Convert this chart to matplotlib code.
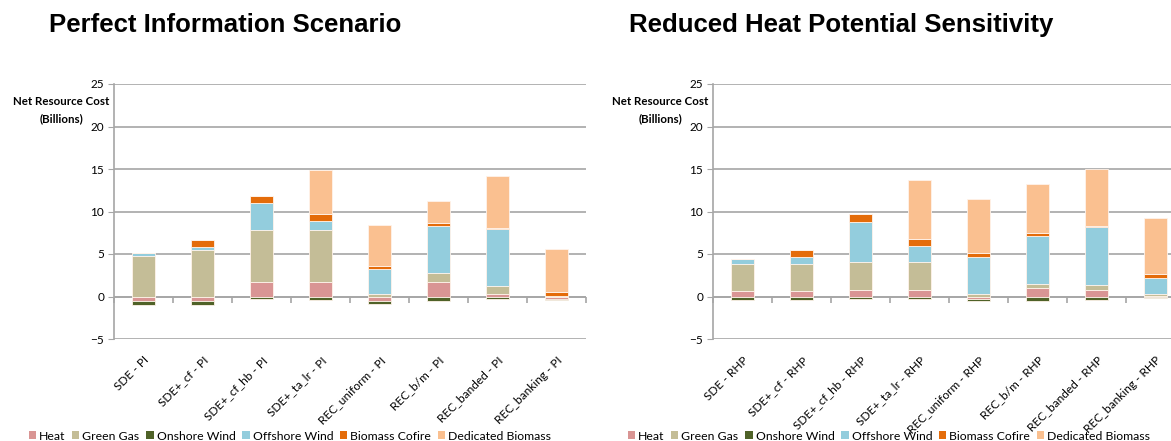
import numpy as np
import matplotlib
matplotlib.use('Agg')
import matplotlib.pyplot as plt
from matplotlib.patches import Patch

# categories
cats_pi = ['SDE - PI', 'SDE+_cf - PI', 'SDE+_cf_hb - PI', 'SDE+_ta_lr - PI',
           'REC_uniform - PI', 'REC_b/m - PI', 'REC_banded - PI', 'REC_banking - PI']
cats_rhp = ['SDE - RHP', 'SDE+_cf - RHP', 'SDE+_cf_hb - RHP', 'SDE+_ta_lr - RHP',
            'REC_uniform - RHP', 'REC_b/m - RHP', 'REC_banded - RHP', 'REC_banking - RHP']

series_names = ['Heat', 'Green Gas', 'Onshore Wind', 'Offshore Wind',
                'Biomass Cofire', 'Dedicated Biomass']
colors = ['#D99594', '#C4BD97', '#4F6228', '#93CDDD', '#E46C0A', '#FAC090']

# Perfect information (billions)
heat_pi = [-0.55, -0.55, 1.7, 1.7, -0.55, 1.75, 0.35, -0.25]
gg_pi = [4.8, 5.5, 6.1, 6.1, 0.25, 1.0, 0.9, 0.1]
on_pi = [-0.45, -0.45, -0.35, -0.4, -0.3, -0.5, -0.35, -0.2]
off_pi = [0.3, 0.3, 3.15, 1.1, 2.95, 5.6, 6.7, 0.0]
cof_pi = [0.0, 0.85, 0.9, 0.8, 0.4, 0.3, 0.15, 0.4]
ded_pi = [0.0, 0.0, 0.0, 5.2, 4.85, 2.6, 6.05, 5.1]

# Reduced heat potential (billions)
heat_rhp = [0.65, 0.65, 0.8, 0.8, -0.3, 1.0, 0.8, 0.1]
gg_rhp = [3.2, 3.2, 3.3, 3.3, 0.35, 0.5, 0.5, 0.25]
on_rhp = [-0.4, -0.4, -0.3, -0.3, -0.2, -0.55, -0.4, -0.15]
off_rhp = [0.6, 0.8, 4.7, 1.8, 4.3, 5.6, 6.85, 1.8]
cof_rhp = [0.0, 0.85, 0.9, 0.9, 0.45, 0.35, 0.2, 0.45]
ded_rhp = [0.0, 0.0, 0.0, 6.9, 6.35, 5.8, 6.6, 6.65]

SMALL = ['Lato', 'DejaVu Sans']
BIG = ['Liberation Sans', 'DejaVu Sans']
GRID = '#A6A6A6'


def draw_panel(fig, rect, cats, data, title, title_x):
    ax = fig.add_axes(rect)
    x = np.arange(len(cats))
    pos_base = np.zeros(len(cats))
    neg_base = np.zeros(len(cats))
    for vals, col in zip(data, colors):
        vals = np.array(vals)
        base = np.where(vals >= 0, pos_base, neg_base)
        ax.bar(x, vals, bottom=base, width=0.39, color=col,
               edgecolor='#FFF3EA', linewidth=0.6, zorder=3)
        pos_base += np.clip(vals, 0, None)
        neg_base += np.clip(vals, None, 0)

    ax.set_xlim(-0.5, len(cats) - 0.5)
    ax.set_ylim(-5, 25)
    ax.set_yticks(range(-5, 26, 5))
    ax.yaxis.grid(True, color=GRID, linewidth=1.2, zorder=0)
    for s in ['top', 'right', 'bottom']:
        ax.spines[s].set_visible(False)
    ax.spines['left'].set_color(GRID)
    ax.spines['left'].set_linewidth(1.2)
    ax.tick_params(axis='y', length=4, color=GRID, labelsize=8.5, pad=3)
    for lab in ax.get_yticklabels():
        lab.set_family(SMALL)

    ax.set_xticks(x)
    ax.set_xticklabels(cats, rotation=45, ha='right', rotation_mode='anchor',
                       fontsize=8.6, family=SMALL)
    ax.tick_params(axis='x', length=0, pad=11)

    # zero line with category-boundary ticks
    ax.axhline(0, color=GRID, linewidth=1.2, zorder=2)
    sec = ax.secondary_xaxis(5 / 30)
    sec.set_xticks(np.arange(-0.5, len(cats), 1.0))
    sec.set_xticklabels([])
    sec.spines['bottom'].set_visible(False)
    sec.tick_params(axis='x', direction='out', length=4, color=GRID, width=1.2)

    fig.text(title_x, 0.943, title, ha='center', va='center',
             fontsize=18.5, fontweight='bold', family=BIG)
    return ax


fig = plt.figure(figsize=(11.71, 4.41), dpi=100)

draw_panel(fig, [114 / 1171, 102 / 441, 472 / 1171, 255 / 441], cats_pi,
           [heat_pi, gg_pi, on_pi, off_pi, cof_pi, ded_pi],
           'Perfect Information Scenario', 225 / 1171)
draw_panel(fig, [713 / 1171, 102 / 441, 472 / 1171, 255 / 441], cats_rhp,
           [heat_rhp, gg_rhp, on_rhp, off_rhp, cof_rhp, ded_rhp],
           'Reduced Heat Potential Sensitivity', 841 / 1171)

for lx in [61, 660]:
    fig.text(lx / 1171, 1 - 110 / 441, 'Net Resource Cost\n(Billions)', ha='center',
             va='center', fontsize=8.3, fontweight='bold', family=SMALL, linespacing=1.6)

handles = [Patch(facecolor=c, edgecolor='none') for c in colors]
for cx in [290, 889]:
    fig.legend(handles, series_names, loc='center', bbox_to_anchor=(cx / 1171, 1 - 436 / 441),
               ncol=6, frameon=False, prop={'family': SMALL, 'size': 8.8},
               handlelength=0.6, handleheight=0.6, handletextpad=0.25, columnspacing=0.55,
               borderpad=0, borderaxespad=0)

fig.savefig('out.png', dpi=100)
